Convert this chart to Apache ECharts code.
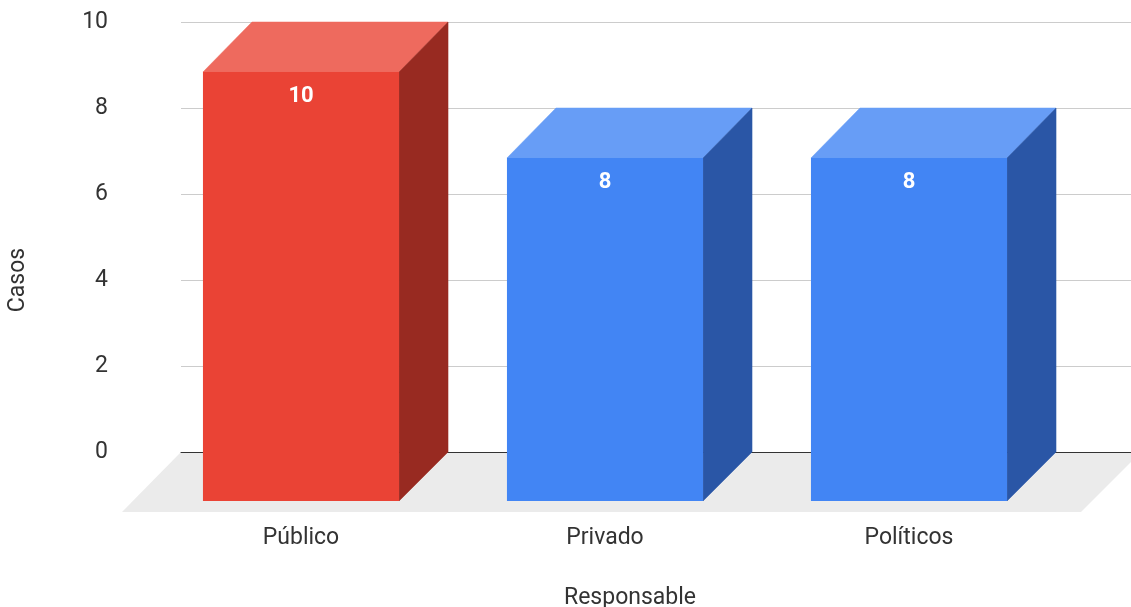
<!DOCTYPE html>
<html>
<head>
<meta charset="utf-8">
<script src="https://cdn.jsdelivr.net/npm/echarts@6/dist/echarts.min.js"></script>
<style>
  html, body { margin: 0; padding: 0; background: #fff; }
  #chart { width: 1131px; height: 607px; }
</style>
</head>
<body>
<div id="chart"></div>
<script>
// Casos por responsable
const categories = ['Público', 'Privado', 'Políticos'];
const casos = [10, 8, 8];
const yTicks = [0, 2, 4, 6, 8, 10];

// Shading of the three visible faces of each block
const RED = { front: '#EA4335', top: '#EE6A5E', side: '#982A21' };
const BLUE = { front: '#4285F4', top: '#679DF6', side: '#2A56A6' };
const DEPTH = 49;        // perspective shift between back and front planes
const FLOOR_DEPTH = 60;  // depth of the grey floor slab
const FONT = 'Roboto, "Noto Sans", sans-serif';
const TEXT = '#333333';
const FS = 23;

const chart = echarts.init(document.getElementById('chart'), null, { renderer: 'canvas' });

function renderFloor(params, api) {
  const a = api.coord([0, 0]);
  const b = api.coord([1, 0]);
  return {
    type: 'polygon',
    shape: { points: [[a[0], a[1]], [b[0] + 10, b[1]], [b[0] + 10 - FLOOR_DEPTH, b[1] + FLOOR_DEPTH], [a[0] - FLOOR_DEPTH + 1, a[1] + FLOOR_DEPTH]] },
    style: { fill: '#EBEBEB' }
  };
}

function renderBar(params, api) {
  const i = api.value(0);
  const v = api.value(1);
  const top = api.coord([i, v]);
  const base = api.coord([i, 0]);
  const half = api.size([1, 0])[0] * 0.3225;
  // back plane
  const bl = base[0] - half, br = base[0] + half, bt = top[1], bb = base[1];
  // front plane
  const fl = bl - DEPTH, fr = br - DEPTH, ft = bt + DEPTH + 1, fb = bb + DEPTH;
  const c = params.dataIndex === 0 ? RED : BLUE;
  return {
    type: 'group',
    children: [
      { type: 'polygon', shape: { points: [[fl, ft], [fr, ft], [br, bt], [bl, bt]] }, style: { fill: c.top, stroke: c.top, lineWidth: 0.5 } },
      { type: 'polygon', shape: { points: [[fr, ft], [br, bt], [br, bb], [fr, fb]] }, style: { fill: c.side, stroke: c.side, lineWidth: 0.5 } },
      { type: 'rect', shape: { x: fl, y: ft, width: fr - fl, height: fb - ft }, style: { fill: c.front } },
      { type: 'text', x: (fl + fr) / 2, y: ft + 24,
        style: { text: String(v), fill: '#ffffff', font: 'bold 22px ' + FONT, align: 'center', verticalAlign: 'middle' } }
    ]
  };
}

chart.setOption({
  animation: false,
  backgroundColor: '#ffffff',
  textStyle: { fontFamily: FONT },
  grid: [
    // back wall: gridlines and value labels
    { left: 181, right: 0, top: 22, bottom: 155, outerBoundsMode: 'none' },
    // back plane of the blocks
    { left: 198, right: 21, top: 22, bottom: 155, outerBoundsMode: 'none' },
    // front plane: category labels and axis names
    { left: 149, right: 70, top: 60, bottom: 107, outerBoundsMode: 'none' }
  ],
  xAxis: [
    { gridIndex: 0, type: 'value', min: 0, max: 1, z: 4,
      axisLine: { show: true, lineStyle: { color: '#333333', width: 1 } },
      axisTick: { show: false }, axisLabel: { show: false }, splitLine: { show: false } },
    { gridIndex: 1, type: 'category', data: categories, show: false },
    { gridIndex: 2, type: 'category', data: categories,
      axisLine: { show: false }, axisTick: { show: false }, splitLine: { show: false },
      axisLabel: { color: TEXT, fontSize: FS, margin: 27, fontFamily: FONT },
      name: 'Responsable', nameLocation: 'middle', nameGap: 87,
      nameTextStyle: { color: TEXT, fontSize: FS, fontFamily: FONT, padding: [0, 0, 0, 50] } }
  ],
  yAxis: [
    { gridIndex: 0, type: 'value', min: yTicks[0], max: yTicks[yTicks.length - 1], interval: 2, z: 3,
      axisLine: { show: false }, axisTick: { show: false },
      axisLabel: { color: TEXT, fontSize: FS, margin: 73, fontFamily: FONT },
      splitLine: { lineStyle: { color: '#CCCCCC', width: 1 } } },
    { gridIndex: 1, type: 'value', min: yTicks[0], max: yTicks[yTicks.length - 1], show: false },
    { gridIndex: 2, type: 'value', min: 0, max: 10,
      axisLine: { show: false }, axisTick: { show: false }, axisLabel: { show: false }, splitLine: { show: false },
      name: 'Casos', nameLocation: 'middle', nameGap: 119,
      nameTextStyle: { color: TEXT, fontSize: FS, fontFamily: FONT } }
  ],
  series: [
    { type: 'custom', name: 'floor', xAxisIndex: 0, yAxisIndex: 0, z: 1, silent: true,
      renderItem: renderFloor, data: [[0, 0]], clip: false },
    { type: 'custom', name: 'Casos', xAxisIndex: 1, yAxisIndex: 1, z: 10, clip: false,
      renderItem: renderBar,
      data: casos.map((v, i) => [i, v]) }
  ]
});
</script>
</body>
</html>
